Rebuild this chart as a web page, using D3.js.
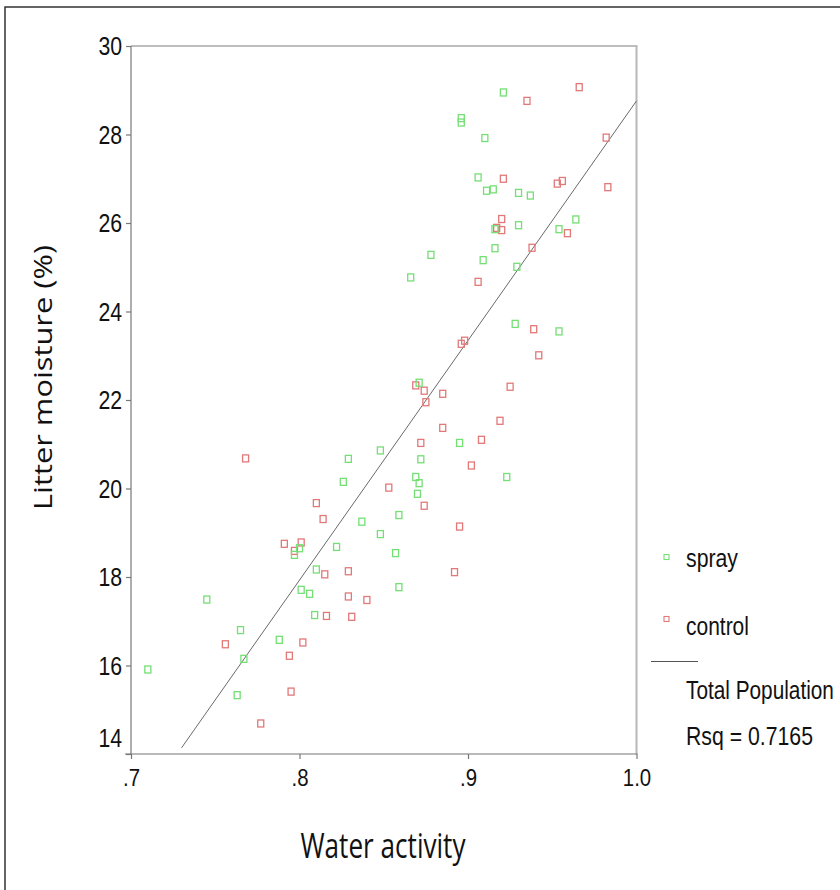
<!DOCTYPE html>
<html>
<head>
<meta charset="utf-8">
<script src="https://cdn.jsdelivr.net/npm/d3@7"></script>
<style>
  body { margin: 0; background: #fff; }
  svg { display: block; }
</style>
</head>
<body>
<svg id="chart" width="840" height="890"></svg>
<script>
// Water activity vs. litter moisture, two treatment groups
const sprayWA = [0.921, 0.896, 0.896, 0.910, 0.906, 0.911, 0.915, 0.930, 0.937, 0.916,
                 0.930, 0.954, 0.964, 0.916, 0.878, 0.909, 0.929, 0.866, 0.928, 0.954,
                 0.871, 0.895, 0.848, 0.872, 0.923, 0.869, 0.871, 0.870, 0.859, 0.848,
                 0.857, 0.859, 0.837, 0.800, 0.797, 0.822, 0.810, 0.801, 0.806, 0.809,
                 0.745, 0.765, 0.788, 0.767, 0.710, 0.763, 0.829, 0.826];
const sprayLM = [28.95, 28.37, 28.27, 27.92, 27.03, 26.73, 26.76, 26.68, 26.62, 25.86,
                 25.95, 25.86, 26.08, 25.43, 25.28, 25.16, 25.01, 24.77, 23.72, 23.55,
                 22.39, 21.03, 20.86, 20.66, 20.26, 20.26, 20.12, 19.88, 19.40, 18.97,
                 18.54, 17.77, 19.25, 18.65, 18.50, 18.68, 18.17, 17.71, 17.62, 17.14,
                 17.49, 16.80, 16.58, 16.15, 15.91, 15.33, 20.67, 20.15];

const controlWA = [0.966, 0.935, 0.982, 0.983, 0.921, 0.953, 0.956, 0.920, 0.917, 0.920,
                   0.959, 0.938, 0.906, 0.939, 0.942, 0.896, 0.898, 0.869, 0.874, 0.885,
                   0.875, 0.925, 0.919, 0.885, 0.872, 0.908, 0.902, 0.853, 0.874, 0.895,
                   0.892, 0.810, 0.814, 0.791, 0.801, 0.797, 0.815, 0.829, 0.829, 0.840,
                   0.816, 0.831, 0.756, 0.802, 0.794, 0.795, 0.777, 0.768];
const controlLM = [29.07, 28.76, 27.93, 26.81, 27.00, 26.89, 26.95, 26.09, 25.89, 25.84,
                   25.77, 25.44, 24.67, 23.60, 23.01, 23.27, 23.34, 22.33, 22.21, 22.14,
                   21.95, 22.30, 21.53, 21.37, 21.03, 21.10, 20.52, 20.02, 19.61, 19.14,
                   18.11, 19.67, 19.31, 18.75, 18.78, 18.59, 18.06, 18.13, 17.56, 17.48,
                   17.12, 17.10, 16.48, 16.52, 16.22, 15.41, 14.69, 20.68];

const xTicks = [0.7, 0.8, 0.9, 1.0];
const xTickLabels = [".7", ".8", ".9", "1.0"];
const yTicks = [14, 16, 18, 20, 22, 24, 26, 28, 30];

// Linear fit over the pooled sample
const fitIntercept = -25.39;
const fitSlope = 54.15;
const fitRange = [0.73, 1.0];

const seriesNames = ["spray", "control"];
const fitName = "Total Population";
const rsqText = "Rsq = 0.7165";
const xTitle = "Water activity";
const yTitle = "Litter moisture (%)";

const colors = { spray: "#74df74", control: "#e27878" };

const svg = d3.select("#chart");

const x = d3.scaleLinear().domain([0.7, 1.0]).range([131, 636.5]);
const y = d3.scaleLinear().domain([14, 30]).range([754, 46]);

// outer frame
svg.append("path")
  .attr("d", "M5,890 V7 H840")
  .attr("fill", "none")
  .attr("stroke", "#333")
  .attr("stroke-width", 1.5);

// plot frame: light top/right, darker left/bottom axes
svg.append("line").attr("x1", x(0.7)).attr("x2", x(1.0) + 1).attr("y1", y(30)).attr("y2", y(30))
  .attr("stroke", "#a8a8a8").attr("stroke-width", 1.5);
svg.append("line").attr("x1", x(1.0)).attr("x2", x(1.0)).attr("y1", y(30)).attr("y2", y(14))
  .attr("stroke", "#b8b8b8").attr("stroke-width", 2);

const squeeze = 0.85;

// y axis
const yAxis = svg.append("g")
  .attr("transform", `translate(${x(0.7)},0)`)
  .call(d3.axisLeft(y).tickValues(yTicks).tickSize(5).tickPadding(4).tickFormat(d3.format("d")));
yAxis.select(".domain").remove();
yAxis.selectAll(".tick line").attr("stroke", "#777").attr("stroke-width", 1.2);
yAxis.selectAll(".tick text")
  .attr("font-family", "'Liberation Sans', Arial, sans-serif")
  .attr("font-size", 25)
  .attr("fill", "#111")
  .attr("x", -9 / squeeze)
  .attr("dy", d => d === 14 ? "-0.32em" : "0.34em")
  .attr("transform", `scale(${squeeze},1)`);

// x axis
const xAxis = svg.append("g")
  .attr("transform", `translate(0,${y(14)})`)
  .call(d3.axisBottom(x).tickValues(xTicks).tickSize(5).tickPadding(10)
    .tickFormat((d, i) => xTickLabels[i]));
xAxis.select(".domain").remove();
xAxis.selectAll(".tick line").attr("stroke", "#777").attr("stroke-width", 1.2);
xAxis.selectAll(".tick text")
  .attr("font-family", "'Liberation Sans', Arial, sans-serif")
  .attr("font-size", 24)
  .attr("fill", "#111")
  .attr("transform", `scale(${squeeze},1)`);

// axis lines
svg.append("line").attr("x1", x(0.7)).attr("x2", x(0.7)).attr("y1", y(30)).attr("y2", y(14))
  .attr("stroke", "#777").attr("stroke-width", 1.2);
svg.append("line").attr("x1", x(0.7) - 6).attr("x2", x(1.0) + 1).attr("y1", y(14)).attr("y2", y(14))
  .attr("stroke", "#777").attr("stroke-width", 1.2);

// fit line
svg.append("line")
  .attr("x1", x(fitRange[0])).attr("y1", y(fitIntercept + fitSlope * fitRange[0]))
  .attr("x2", x(fitRange[1])).attr("y2", y(fitIntercept + fitSlope * fitRange[1]))
  .attr("stroke", "#6a6a6a").attr("stroke-width", 1);

// points
function drawSeries(wa, lm, color) {
  svg.append("g").selectAll("rect")
    .data(wa.map((d, i) => [d, lm[i]]))
    .join("rect")
    .attr("x", d => x(d[0]) - 3)
    .attr("y", d => y(d[1]) - 3.5)
    .attr("width", 6)
    .attr("height", 7)
    .attr("fill", "none")
    .attr("stroke", color)
    .attr("stroke-width", 1.3);
}
drawSeries(controlWA, controlLM, colors.control);
drawSeries(sprayWA, sprayLM, colors.spray);

// condensed text: horizontal squeeze so the label spans the given width
function condensedText(parent, str, px, py, width, size, family) {
  const t = parent.append("text")
    .attr("font-family", family).attr("font-size", size).attr("fill", "#111")
    .text(str);
  const natural = t.node().getComputedTextLength() || width;
  t.attr("transform", `translate(${px},${py}) scale(${width / natural},1)`);
  return t;
}

// legend
const legendFont = "'Liberation Sans', Arial, sans-serif";
const legend = svg.append("g");
const legendRows = [
  { name: seriesNames[0], color: colors.spray, my: 557, ty: 567, w: 52 },
  { name: seriesNames[1], color: colors.control, my: 619, ty: 635, w: 63 }
];
legendRows.forEach(r => {
  legend.append("rect").attr("x", 664).attr("y", r.my - 2.5).attr("width", 5).attr("height", 5)
    .attr("fill", "none").attr("stroke", r.color).attr("stroke-width", 1.1);
  condensedText(legend, r.name, 686, r.ty, r.w, 26, legendFont);
});
legend.append("line").attr("x1", 651).attr("x2", 698).attr("y1", 661.5).attr("y2", 661.5)
  .attr("stroke", "#555").attr("stroke-width", 1);
condensedText(legend, fitName, 686, 699, 148, 26, legendFont);
condensedText(legend, rsqText, 686, 745, 127, 26, legendFont);

// axis titles
svg.append("text")
  .attr("x", 383).attr("y", 858)
  .attr("text-anchor", "middle")
  .attr("font-family", "'Open Sans', 'Noto Sans', sans-serif")
  .attr("font-size", 34).attr("fill", "#111")
  .attr("textLength", 165).attr("lengthAdjust", "spacingAndGlyphs")
  .text(xTitle);

svg.append("text")
  .attr("transform", "translate(52,377.5) rotate(-90) scale(1,0.8)")
  .attr("text-anchor", "middle")
  .attr("font-family", "'Open Sans', 'Noto Sans', sans-serif")
  .attr("font-size", 31).attr("fill", "#111")
  .attr("textLength", 265).attr("lengthAdjust", "spacingAndGlyphs")
  .text(yTitle);
</script>
</body>
</html>
